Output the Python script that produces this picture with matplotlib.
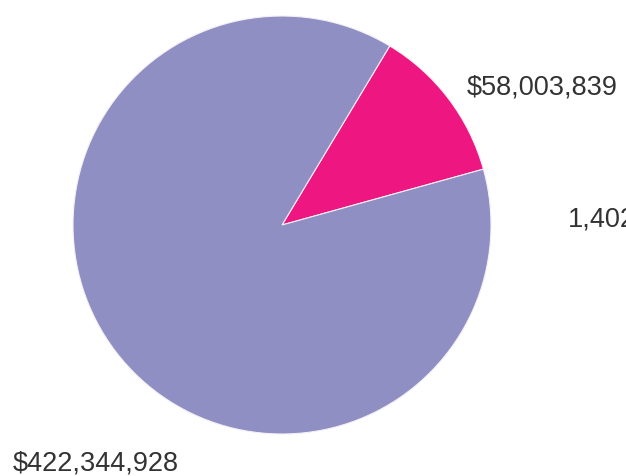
import matplotlib
matplotlib.use("Agg")
import matplotlib.pyplot as plt

labels = ["$58,003,839", "$422,344,928"]
values = [58003839, 422344928]
colors = ["#ee1680", "#8f8fc4"]
extra_label = "1,402"

W, H = 626, 477
fig = plt.figure(figsize=(W / 100, H / 100), dpi=100)
fig.patch.set_facecolor("white")

cx, cy, r = 282, 226, 209
ax = fig.add_axes([(cx - r) / W, (H - cy - r) / H, 2 * r / W, 2 * r / H])
ax.pie(values, colors=colors, startangle=15.5, counterclock=True,
       wedgeprops=dict(linewidth=0.8, edgecolor="#f4f0f4"))
ax.set_xlim(-1, 1)
ax.set_ylim(-1, 1)
ax.set_aspect("auto")
ax.axis("off")

font = dict(family="Liberation Sans", fontsize=19.5, color="#333333")
fig.text(467 / W, 1 - 88 / H, labels[0], ha="left", va="center", **font)
fig.text(568 / W, 1 - 219 / H, extra_label, ha="left", va="center", **font)
fig.text(13 / W, 1 - 464 / H, labels[1], ha="left", va="center", **font)

fig.savefig("out.png", dpi=100)
